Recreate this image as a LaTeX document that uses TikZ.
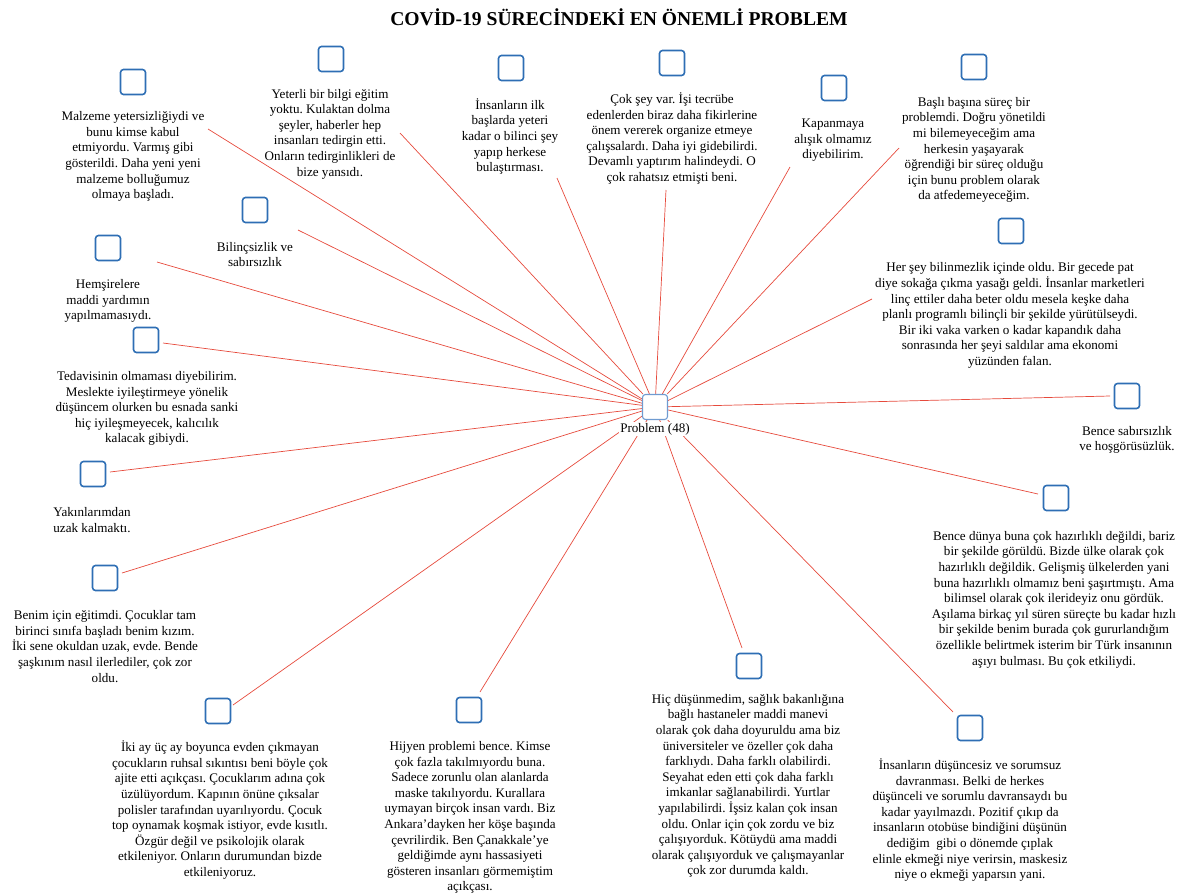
\documentclass[tikz,border=0pt]{standalone}
\usepackage{fontspec}
\setmainfont{Liberation Serif}
\frenchspacing
\usepackage{tikz}
\usetikzlibrary{positioning, backgrounds}
\definecolor{itemblue}{HTML}{2E6EB4}
\definecolor{hubblue}{HTML}{6F9BD1}
\definecolor{linkred}{HTML}{E64A3C}
\begin{document}
\begin{tikzpicture}[x=1pt, y=-1pt,
    item/.style={rectangle, rounded corners=3pt, draw=itemblue, line width=1.6pt, minimum size=25pt, inner sep=0pt},
    hub/.style={rectangle, rounded corners=3pt, draw=hubblue, line width=1.1pt, minimum size=25pt, inner sep=0pt},
    txt/.style={align=center, inner sep=0pt, font=\fontsize{13.1}{15.6}\selectfont},
    link/.style={draw=linkred, line width=0.7pt}]
\useasboundingbox (0,0) rectangle (1189,895);
\node[font=\fontsize{19.6}{22}\selectfont\bfseries] (title) at (619,17) {COVİD-19 SÜRECİNDEKİ EN ÖNEMLİ PROBLEM};
% center
\node[hub] (problem) at (655,407) {};
\node[txt, fill=white, inner sep=1.5pt] (problemtxt) at (655,429) {Problem (48)};
% answers
\node[item] (malzeme) at (133,82) {};
\node[txt] (malzemetxt) at (133,156.5) {Malzeme yetersizliğiydi ve\\bunu kimse kabul\\etmiyordu. Varmış gibi\\gösterildi. Daha yeni yeni\\malzeme bolluğumuz\\olmaya başladı.};
\node[item] (yeterli) at (331,59) {};
\node[txt] (yeterlitxt) at (330,134) {Yeterli bir bilgi eğitim\\yoktu. Kulaktan dolma\\şeyler, haberler hep\\insanları tedirgin etti.\\Onların tedirginlikleri de\\bize yansıdı.};
\node[item] (bilinc) at (511,68) {};
\node[txt] (bilinctxt) at (510,136.5) {İnsanların ilk\\başlarda yeteri\\kadar o bilinci şey\\yapıp herkese\\bulaştırması.};
\node[item] (tecrube) at (672,63) {};
\node[txt] (tecrubetxt) at (672,138.5) {Çok şey var. İşi tecrübe\\edenlerden biraz daha fikirlerine\\önem vererek organize etmeye\\çalışsalardı. Daha iyi gidebilirdi.\\Devamlı yaptırım halindeydi. O\\çok rahatsız etmişti beni.};
\node[item] (kapanma) at (834,88) {};
\node[txt] (kapanmatxt) at (833,140.5) {Kapanmaya\\alışık olmamız\\diyebilirim.};
\node[item] (surec) at (974,67) {};
\node[txt] (surectxt) at (974,150) {Başlı başına süreç bir\\problemdi. Doğru yönetildi\\mi bilemeyeceğim ama\\herkesin yaşayarak\\öğrendiği bir süreç olduğu\\için bunu problem olarak\\da atfedemeyeceğim.};
\node[item] (belirsiz) at (1011,231) {};
\node[txt] (belirsiztxt) at (1010,315.5) {Her şey bilinmezlik içinde oldu. Bir gecede pat\\diye sokağa çıkma yasağı geldi. İnsanlar marketleri\\linç ettiler daha beter oldu mesela keşke daha\\planlı programlı bilinçli bir şekilde yürütülseydi.\\Bir iki vaka varken o kadar kapandık daha\\sonrasında her şeyi saldılar ama ekonomi\\yüzünden falan.};
\node[item] (sabir) at (1127,396) {};
\node[txt] (sabirtxt) at (1127,440) {Bence sabırsızlık\\ve hoşgörüsüzlük.};
\node[item] (dunya) at (1056,498) {};
\node[txt] (dunyatxt) at (1054,599.5) {Bence dünya buna çok hazırlıklı değildi, bariz\\bir şekilde görüldü. Bizde ülke olarak çok\\hazırlıklı değildik. Gelişmiş ülkelerden yani\\buna hazırlıklı olmamız beni şaşırtmıştı. Ama\\bilimsel olarak çok ilerideyiz onu gördük.\\Aşılama birkaç yıl süren süreçte bu kadar hızlı\\bir şekilde benim burada çok gururlandığım\\özellikle belirtmek isterim bir Türk insanının\\aşıyı bulması. Bu çok etkiliydi.};
\node[item] (sorumsuz) at (970,728) {};
\node[txt] (sorumsuztxt) at (970,820) {İnsanların düşüncesiz ve sorumsuz\\davranması. Belki de herkes\\düşünceli ve sorumlu davransaydı bu\\kadar yayılmazdı. Pozitif çıkıp da\\insanların otobüse bindiğini düşünün\\dediğim~ gibi o dönemde çıplak\\elinle ekmeği niye verirsin, maskesiz\\niye o ekmeği yaparsın yani.};
\node[item] (imkan) at (749,666) {};
\node[txt] (imkantxt) at (748,786) {Hiç düşünmedim, sağlık bakanlığına\\bağlı hastaneler maddi manevi\\olarak çok daha doyuruldu ama biz\\üniversiteler ve özeller çok daha\\farklıydı. Daha farklı olabilirdi.\\Seyahat eden etti çok daha farklı\\imkanlar sağlanabilirdi. Yurtlar\\yapılabilirdi. İşsiz kalan çok insan\\oldu. Onlar için çok zordu ve biz\\çalışıyorduk. Kötüydü ama maddi\\olarak çalışıyorduk ve çalışmayanlar\\çok zor durumda kaldı.};
\node[item] (hijyen) at (469,710) {};
\node[txt] (hijyentxt) at (470,817.5) {Hijyen problemi bence. Kimse\\çok fazla takılmıyordu buna.\\Sadece zorunlu olan alanlarda\\maske takılıyordu. Kurallara\\uymayan birçok insan vardı. Biz\\Ankara’dayken her köşe başında\\çevrilirdik. Ben Çanakkale’ye\\geldiğimde aynı hassasiyeti\\gösteren insanları görmemiştim\\açıkçası.};
\node[item] (cocuk) at (218,711) {};
\node[txt] (cocuktxt) at (220,810) {İki ay üç ay boyunca evden çıkmayan\\çocukların ruhsal sıkıntısı beni böyle çok\\ajite etti açıkçası. Çocuklarım adına çok\\üzülüyordum. Kapının önüne çıksalar\\polisler tarafından uyarılıyordu. Çocuk\\top oynamak koşmak istiyor, evde kısıtlı.\\Özgür değil ve psikolojik olarak\\etkileniyor. Onların durumundan bizde\\etkileniyoruz.};
\node[item] (egitim) at (105,578) {};
\node[txt] (egitimtxt) at (105,646.5) {Benim için eğitimdi. Çocuklar tam\\birinci sınıfa başladı benim kızım.\\İki sene okuldan uzak, evde. Bende\\şaşkınım nasıl ilerlediler, çok zor\\oldu.};
\node[item] (yakin) at (93,474) {};
\node[txt] (yakintxt) at (92,520) {Yakınlarımdan\\uzak kalmaktı.};
\node[item] (tedavi) at (146,340) {};
\node[txt] (tedavitxt) at (147,408.5) {Tedavisinin olmaması diyebilirim.\\Meslekte iyileştirmeye yönelik\\düşüncem olurken bu esnada sanki\\hiç iyileşmeyecek, kalıcılık\\kalacak gibiydi.};
\node[item] (hemsire) at (108,248) {};
\node[txt] (hemsiretxt) at (108,301) {Hemşirelere\\maddi yardımın\\yapılmamasıydı.};
\node[item] (sabirsiz) at (255,210) {};
\node[txt] (sabirsiztxt) at (255,254.5) {Bilinçsizlik ve\\sabırsızlık};
% free ends of the links
\coordinate (malzemeend) at (208,129);
\coordinate (yeterliend) at (400,133);
\coordinate (bilincend) at (557,178);
\coordinate (tecrubeend) at (666,190);
\coordinate (kapanmaend) at (790,167);
\coordinate (surecend) at (899,148);
\coordinate (belirsizend) at (872,299);
\coordinate (sabirend) at (1110,396);
\coordinate (dunyaend) at (1038,494);
\coordinate (sorumsuzend) at (953,712);
\coordinate (imkanend) at (742,648);
\coordinate (hijyenend) at (480,692);
\coordinate (cocukend) at (233,705);
\coordinate (egitimend) at (122,573);
\coordinate (yakinend) at (110,472);
\coordinate (tedaviend) at (163,343);
\coordinate (hemsireend) at (157,262);
\coordinate (sabirsizend) at (298,230);
\begin{scope}[on background layer]
\draw[link] (malzemeend) -- (problem);
\draw[link] (yeterliend) -- (problem);
\draw[link] (bilincend) -- (problem);
\draw[link] (tecrubeend) -- (problem);
\draw[link] (kapanmaend) -- (problem);
\draw[link] (surecend) -- (problem);
\draw[link] (belirsizend) -- (problem);
\draw[link] (sabirend) -- (problem);
\draw[link] (dunyaend) -- (problem);
\draw[link] (sorumsuzend) -- (problem);
\draw[link] (imkanend) -- (problem);
\draw[link] (hijyenend) -- (problem);
\draw[link] (cocukend) -- (problem);
\draw[link] (egitimend) -- (problem);
\draw[link] (yakinend) -- (problem);
\draw[link] (tedaviend) -- (problem);
\draw[link] (hemsireend) -- (problem);
\draw[link] (sabirsizend) -- (problem);
\end{scope}
\end{tikzpicture}
\end{document}
